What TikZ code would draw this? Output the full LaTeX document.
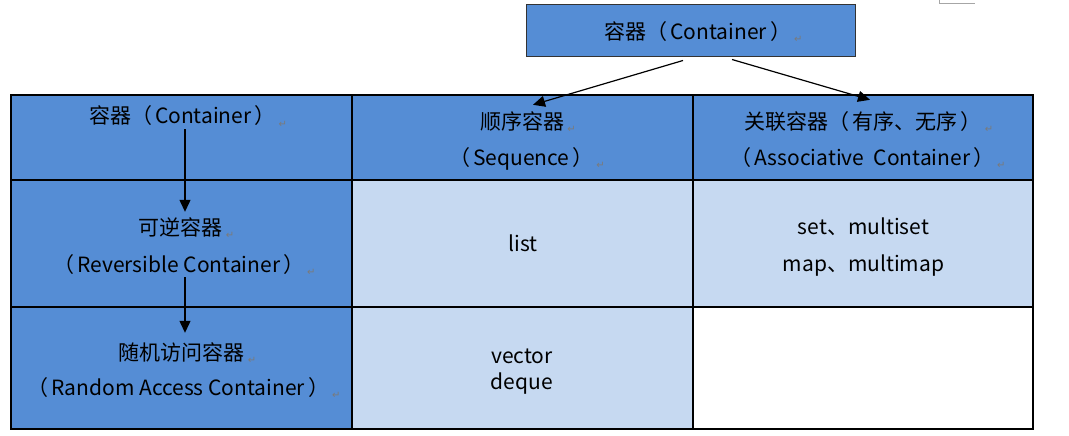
\documentclass[tikz,border=0pt]{standalone}
\usepackage{fontspec}
\setmainfont{Noto Sans CJK SC}
\newfontfamily\markfont{DejaVu Sans}
\usetikzlibrary{arrows.meta,positioning}

\definecolor{hdblue}{HTML}{558DD5}
\definecolor{ltblue}{HTML}{C6D9F1}
\definecolor{mkgray}{HTML}{7A7A7A}

\newcommand{\pmk}{\hspace{3pt}{\markfont\fontsize{10}{10}\selectfont\color{mkgray}\raisebox{-3pt}{↵}}}
\newcommand{\lp}{（\hspace{3pt}}
\newcommand{\rp}{\hspace{3pt}）}

\tikzset{
  hcell/.style={draw=black,line width=1.1pt,fill=hdblue,minimum width=341pt,inner sep=0pt},
  bcell/.style={draw=black,line width=1.1pt,fill=ltblue,minimum width=341pt,inner sep=0pt},
  wcell/.style={draw=black,line width=1.1pt,fill=white,minimum width=340pt,inner sep=0pt},
  lbl/.style={inner sep=0pt,text height=15pt,text depth=5pt},
  arr/.style={line width=1.2pt,-{Triangle[length=12pt,width=11pt]}}
}

\begin{document}
\begin{tikzpicture}[x=1pt,y=-1pt,every node/.style={font=\fontsize{21}{26}\selectfont}]
			\useasboundingbox (0,0) rectangle (1069,436);
			\draw [black!35,line width=1pt] (939,0) -- (939,4) -- (975,4);
			\node [draw=black!80,line width=1pt,fill=hdblue,minimum width=329pt,minimum height=52pt,inner sep=0pt] (top) at (690.5,31) {};
			\node [lbl] (toptxt) at (703.5,35) {容器\lp Container\rp\pmk};
			\node [hcell,minimum height=85pt] (h1) at (181.5,137.5) {};
			\node [hcell,minimum height=85pt] (h2) at (522.5,137.5) {};
			\node [hcell,minimum width=340pt,minimum height=85pt] (h3) at (863,137.5) {};
			\node [hcell,minimum height=127pt] (r1) at (181.5,243.5) {};
			\node [bcell,minimum height=127pt] (r2) at (522.5,243.5) {};
			\node [bcell,minimum width=340pt,minimum height=127pt] (r3) at (863,243.5) {};
			\node [hcell,minimum height=122pt] (q1) at (181.5,368) {};
			\node [bcell,minimum height=122pt] (q2) at (522.5,368) {};
			\node [wcell,minimum height=122pt] (q3) at (863,368) {};
			\node [lbl] (cont) at (188,119) {容器\lp Container\rp\pmk};
			\node [lbl] (rev) at (186.5,230) {可逆容器\pmk};
			\node [lbl] (reven) at (184.5,267) {\lp Reversible Container\rp\pmk};
			\node [lbl] (rand) at (187.5,355) {随机访问容器\pmk};
			\node [lbl] (randen) at (184,390) {\lp Random Access Container\rp\pmk};
			\node [lbl] (seq) at (528,124) {顺序容器\pmk};
			\node [lbl] (seqen) at (527,160) {\lp Sequence\rp\pmk};
			\node [lbl] (assoc) at (869,124) {关联容器\lp 有序、无序\rp\pmk};
			\node [lbl] (assocen) at (868,160) {\lp Associative\ \ Container\rp\pmk};
			\node [lbl] (list) at (523,246) {list};
			\node [lbl] (setl) at (863.5,229) {set、multiset};
			\node [lbl] (mapl) at (863.5,266) {map、multimap};
			\node [inner sep=0pt,align=center] (vec) at (522,372) {vector\\deque};
			\draw [arr] ([xshift=-7.5pt,yshift=-3pt]top.south) -- ([xshift=5pt,yshift=9pt]seq.north);
			\draw [arr] ([xshift=41.5pt,yshift=-2pt]top.south) -- ([xshift=1pt,yshift=14pt]assoc.north);
			\draw [arr] ([xshift=-3pt]cont.south) -- ([xshift=-1.5pt,yshift=8pt]rev.north);
			\draw [arr] ([xshift=0.5pt]reven.south) -- ([xshift=-2.5pt,yshift=12pt]rand.north);
\end{tikzpicture}
\end{document}
